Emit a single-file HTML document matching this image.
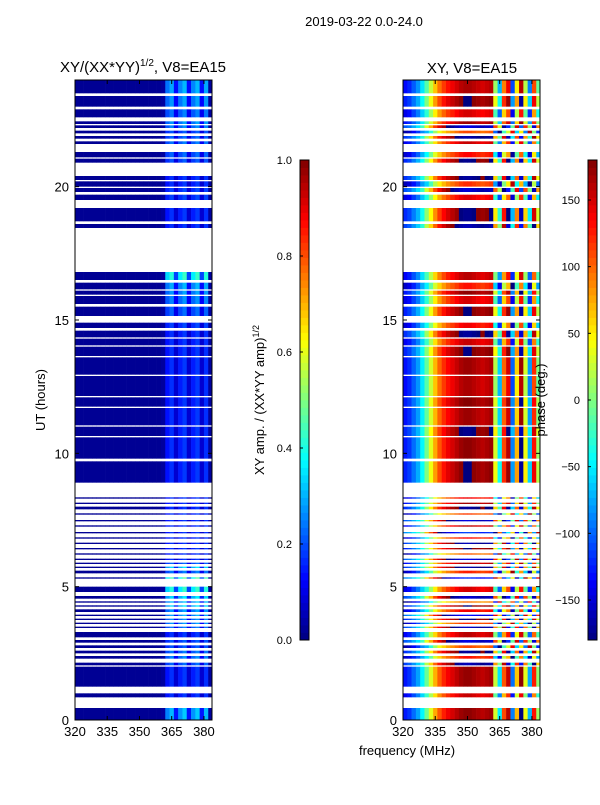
<!DOCTYPE html>
<html><head><meta charset="utf-8"><style>
body{margin:0;background:#fff;}
svg text{font-family:"Liberation Sans","DejaVu Sans",sans-serif;fill:#000;}
</style></head><body>
<svg id="fig" width="600" height="800" xmlns="http://www.w3.org/2000/svg">
<text x="364" y="26" font-size="13" text-anchor="middle">2019-03-22 0.0-24.0</text>
<text x="143" y="72" font-size="15" text-anchor="middle">XY/(XX*YY)<tspan font-size="10" dy="-6">1/2</tspan><tspan dy="6">, V8=EA15</tspan></text>
<text x="472" y="73" font-size="15" text-anchor="middle">XY, V8=EA15</text>
<text x="45" y="400" font-size="13" text-anchor="middle" transform="rotate(-90 45 400)">UT (hours)</text>
<text x="407" y="755" font-size="13" text-anchor="middle">frequency (MHz)</text>
<text x="264" y="400" font-size="13" text-anchor="middle" transform="rotate(-90 264 400)">XY amp. / (XX*YY amp)<tspan font-size="9" dy="-5">1/2</tspan></text>
<g id="left"></g>
<g id="right"></g>
<g id="cb"></g>
<text x="545" y="400" font-size="13" text-anchor="middle" transform="rotate(-90 545 400)">phase (deg.)</text>
</svg>
<script>
// UT intervals with data
const segStart=[0,0.85,1.25,2.05,2.3,2.5,2.7,2.9,3.1,3.45,3.6,3.75,3.9,4.05,4.25,4.4,4.55,4.8,5.3,5.5,5.7,5.85,6.0,6.2,6.4,6.6,6.8,7.0,7.25,7.45,7.7,7.9,8.1,8.3,8.9,9.8,10.65,11.05,11.75,12.15,12.95,13.65,14.05,14.35,14.7,15.15,15.6,15.95,16.15,16.5,18.45,18.7,19.5,19.8,20.0,20.25,20.9,21.1,21.4,21.6,21.8,22.0,22.2,22.35,22.6,23.0,23.5];
const segEnd=[0.45,1.0,2.0,2.15,2.4,2.6,2.8,3.0,3.3,3.5,3.65,3.8,3.95,4.15,4.3,4.45,4.65,5.0,5.35,5.6,5.75,5.9,6.05,6.25,6.45,6.65,6.85,7.05,7.3,7.5,7.75,8.0,8.15,8.35,9.7,10.6,11.0,11.7,12.1,12.9,13.6,14.0,14.3,14.6,14.9,15.5,15.9,16.1,16.4,16.8,18.6,19.2,19.7,19.95,20.2,20.4,21.05,21.3,21.4,21.7,21.9,22.1,22.3,22.45,22.9,23.4,24];
// amplitude boost per segment (mainly in 362-382 MHz band)
const segAmp=[1.8,1.0,1.0,1.3,1.5,1.4,1.2,1.2,1.0,1.4,1.6,1.5,1.7,1.6,2.0,1.8,2.0,2.4,2.6,1.4,2.0,1.3,1.0,1.0,1.0,1.0,1.0,1.0,1.0,1.0,1.0,1.0,1.0,1.0,1.0,1.0,1.0,1.0,1.0,1.0,1.0,1.0,1.0,1.0,1.1,1.3,1.5,1.6,1.7,2.4,1.0,1.0,1.1,1.1,1.0,1.0,1.2,1.3,1.4,1.4,1.3,1.2,1.5,1.6,1.4,1.6,1.7];
// phase offset per segment (deg)
const segPhase=[10,-30,5,60,-80,40,-120,90,-20,70,-100,30,120,-60,20,-150,80,-40,140,-90,50,-10,100,-130,20,60,-70,160,-20,90,-110,40,0,-60,20,10,30,0,15,-10,0,25,-30,40,-60,20,-40,10,-80,-20,60,30,-50,80,-100,40,30,-70,110,-30,50,-120,90,0,-40,20,-10];
// frequency channels (MHz, lower edge, 2 MHz each)
const freqs=[320,322,324,326,328,330,332,334,336,338,340,342,344,346,348,350,352,354,356,358,360,362,364,366,368,370,372,374,376,378,380,382];
const ampProfile=[0.02,0.02,0.02,0.02,0.02,0.02,0.02,0.02,0.02,0.02,0.02,0.02,0.02,0.02,0.02,0.02,0.02,0.02,0.02,0.02,0.03,0.14,0.17,0.08,0.15,0.18,0.08,0.15,0.18,0.08,0.17,0.03];
const phaseProfile=[-130,-120,-100,-80,-50,-10,30,70,100,120,135,145,155,165,170,170,165,160,155,160,165,20,-60,100,150,-100,60,170,30,-80,120,0];
const amps=[0,0.2,0.4,0.6,0.8,1.0];
const phases=[-150,-100,-50,0,50,100,150];
const NS='http://www.w3.org/2000/svg';
function jet(v){v=Math.max(0,Math.min(1,v));
 const r=Math.max(0,Math.min(1,1.5-Math.abs(4*v-3))),g=Math.max(0,Math.min(1,1.5-Math.abs(4*v-2))),b=Math.max(0,Math.min(1,1.5-Math.abs(4*v-1)));
 return `rgb(${Math.round(r*255)},${Math.round(g*255)},${Math.round(b*255)})`;}
function el(tag,at,parent){const e=document.createElementNS(NS,tag);for(const k in at)e.setAttribute(k,at[k]);parent.appendChild(e);return e;}
const Y0=720,Y1=80;
function yScale(t){return Y0-(t/24)*(Y0-Y1);}
function makePanel(gid,x0,x1,valFn,name){
 const g=document.getElementById(gid);
 const fmin=320,fmax=383.75;
 const xs=f=>x0+(f-fmin)/(fmax-fmin)*(x1-x0);
 for(let i=0;i<segStart.length;i++){
  const ya=yScale(segEnd[i]),yb=yScale(segStart[i]);
  for(let j=0;j<freqs.length;j++){
   const xa=xs(freqs[j]),xb=Math.min(x1,xs(freqs[j]+2));
   const r=el('rect',{x:xa.toFixed(2),y:ya.toFixed(2),width:(xb-xa+0.3).toFixed(2),height:(yb-ya).toFixed(2),fill:jet(valFn(i,j))},g);
   
   
  }
 }
 const fr=el('rect',{x:x0,y:Y1,width:x1-x0,height:Y0-Y1,fill:'none',stroke:'#000','stroke-width':1},g);
 
 
 [0,5,10,15,20].forEach(t=>{const y=yScale(t);
  el('line',{x1:x0,x2:x0+4,y1:y,y2:y,stroke:'#000'},g);el('line',{x1:x1,x2:x1-4,y1:y,y2:y,stroke:'#000'},g);
  const tx=el('text',{x:x0-6,y:y+5,'font-size':13,'text-anchor':'end'},g);tx.textContent=t;
  
  });
 [320,335,350,365,380].forEach(f=>{const x=xs(f);
  el('line',{x1:x,x2:x,y1:Y0,y2:Y0-4,stroke:'#000'},g);el('line',{x1:x,x2:x,y1:Y1,y2:Y1+4,stroke:'#000'},g);
  const tx=el('text',{x:x,y:Y0+16,'font-size':13,'text-anchor':'middle'},g);tx.textContent=f;
  
  });
}
makePanel('left',75,212,(i,j)=>{const p=ampProfile[j];return p>0.05?p*segAmp[i]:p;},'amp');
makePanel('right',403,540,(i,j)=>{let p=phaseProfile[j]+(j<5?segPhase[i]*0.3:j<21?segPhase[i]*0.5:segPhase[i]);p=((p+180)%360+360)%360-180;return (p+180)/360;},'phase');
function colorbar(x,vmin,vmax,ticks,fmt,name){
 const g=document.getElementById('cb');const top=160,bot=640,n=64;
 for(let k=0;k<n;k++){const r=el('rect',{x:x,y:(bot-(k+1)*(bot-top)/n).toFixed(2),width:9,height:((bot-top)/n+0.4).toFixed(2),fill:jet((k+0.5)/n)},g);
  
  }
 el('rect',{x:x,y:top,width:9,height:bot-top,fill:'none',stroke:'#000'},g);
 ticks.forEach(v=>{const y=bot-(v-vmin)/(vmax-vmin)*(bot-top);
  el('line',{x1:x,x2:x+3,y1:y,y2:y,stroke:'#000'},g);
  const tx=el('text',{x:x-8,y:y+4,'font-size':11,'text-anchor':'end'},g);tx.textContent=fmt(v);
  
  });
}
colorbar(300,0,1,amps,v=>v.toFixed(1),'amp-colorbar');
colorbar(588,-180,180,phases,v=>v<0?'\u2212'+Math.abs(v):String(v),'phase-colorbar');
</script>
</body></html>
